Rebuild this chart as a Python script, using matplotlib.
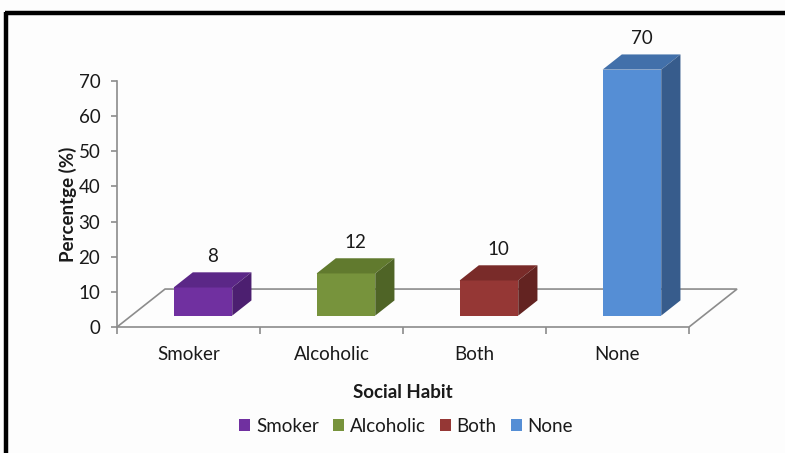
import matplotlib
matplotlib.use("Agg")
import matplotlib.pyplot as plt
from matplotlib.patches import Polygon, Rectangle
from matplotlib.lines import Line2D

plt.rcParams['font.family'] = ['Lato', 'DejaVu Sans']

# Data
categories = ["Smoker", "Alcoholic", "Both", "None"]
values = [8, 12, 10, 70]
y_ticks = [0, 10, 20, 30, 40, 50, 60, 70]

# Face colours: front, top, side
front_colors = ["#7030A0", "#77933C", "#953735", "#558ED5"]
top_colors = ["#5B2787", "#617A2E", "#792B29", "#4270AA"]
side_colors = ["#4C1F70", "#4F6426", "#632321", "#375C8C"]

W, H = 785, 453
fig = plt.figure(figsize=(W / 100, H / 100), dpi=100, facecolor="#FDFDFD")

# Plot area: x in category units, y in percent
ax = fig.add_axes([117 / W, (H - 327) / H, 572 / W, 246 / H])
ax.set_xlim(0, len(categories))
ax.set_ylim(0, 70)
ax.set_facecolor("none")

# 3-D floor depth (in data units) and bar geometry
DX, DY = 0.336, 10.8
f0, f1 = 0.3, 0.7
bw = 0.41
grey = "#8C8C8C"
txt = "#1A1A1A"
fs = 13.5

floor = Polygon([(0, 0), (len(categories), 0), (len(categories) + DX, DY), (DX, DY)],
                closed=True, facecolor="none", edgecolor=grey, lw=1.2,
                clip_on=False, zorder=1)
ax.add_patch(floor)

bdx = (f1 - f0) * DX
bdy = (f1 - f0) * DY
for i, (v, fc, tc, sc) in enumerate(zip(values, front_colors, top_colors, side_colors)):
    x0 = i + 0.5 - bw / 2 + f0 * DX
    x1 = x0 + bw
    y0 = f0 * DY
    y1 = y0 + v
    ax.add_patch(Rectangle((x0, y0), bw, v, facecolor=fc, edgecolor="none",
                           clip_on=False, zorder=3))
    ax.add_patch(Polygon([(x0, y1), (x1, y1), (x1 + bdx, y1 + bdy), (x0 + bdx, y1 + bdy)],
                         closed=True, facecolor=tc, edgecolor="none",
                         clip_on=False, zorder=3))
    ax.add_patch(Polygon([(x1, y0), (x1 + bdx, y0 + bdy), (x1 + bdx, y1 + bdy), (x1, y1)],
                         closed=True, facecolor=sc, edgecolor="none",
                         clip_on=False, zorder=3))
    ax.annotate(str(v), xy=((x0 + x1) / 2 + bdx / 2, y1 + bdy), xytext=(0, 5.5),
                textcoords="offset points", ha="center", va="bottom",
                fontsize=fs, color=txt, annotation_clip=False)

# Axes styling
for side in ("top", "right", "bottom"):
    ax.spines[side].set_visible(False)
ax.spines["left"].set_color(grey)
ax.spines["left"].set_linewidth(1.2)

ax.set_yticks(y_ticks)
ax.tick_params(axis="y", direction="out", length=4, width=1.2, color=grey,
               labelsize=fs, labelcolor=txt, pad=8)

ax.set_xticks(range(len(categories) + 1))
ax.set_xticklabels([])
ax.set_xticks([i + 0.5 for i in range(len(categories))], minor=True)
ax.set_xticklabels(categories, minor=True)
ax.tick_params(axis="x", which="major", direction="out", length=5, width=1.2, color=grey)
ax.tick_params(axis="x", which="minor", length=0, labelsize=fs,
               labelcolor=txt, pad=14)

ax.set_ylabel("Percentge (%)", fontsize=fs, fontweight="bold", color=txt, labelpad=1)
ax.set_xlabel("Social Habit", fontsize=fs, fontweight="bold", color=txt, labelpad=15)

# Legend
handles = [Rectangle((0, 0), 1, 1, facecolor=c, edgecolor="none") for c in front_colors]
fig.legend(handles, categories, loc="center", bbox_to_anchor=(406 / W, 1 - 426 / H),
           ncol=4, frameon=False, fontsize=fs, handlelength=0.6, handleheight=0.6,
           handletextpad=0.3, columnspacing=0.75, labelcolor=txt)

# Outer frame (top and left edges)
fig.add_artist(Line2D([5 / W, 1], [1 - 13 / H, 1 - 13 / H], color="black", lw=3.2,
                      transform=fig.transFigure, solid_capstyle="butt"))
fig.add_artist(Line2D([6 / W, 6 / W], [0, 1 - 11.5 / H], color="black", lw=3.2,
                      transform=fig.transFigure, solid_capstyle="butt"))

fig.savefig("out.png", dpi=100, facecolor=fig.get_facecolor())
